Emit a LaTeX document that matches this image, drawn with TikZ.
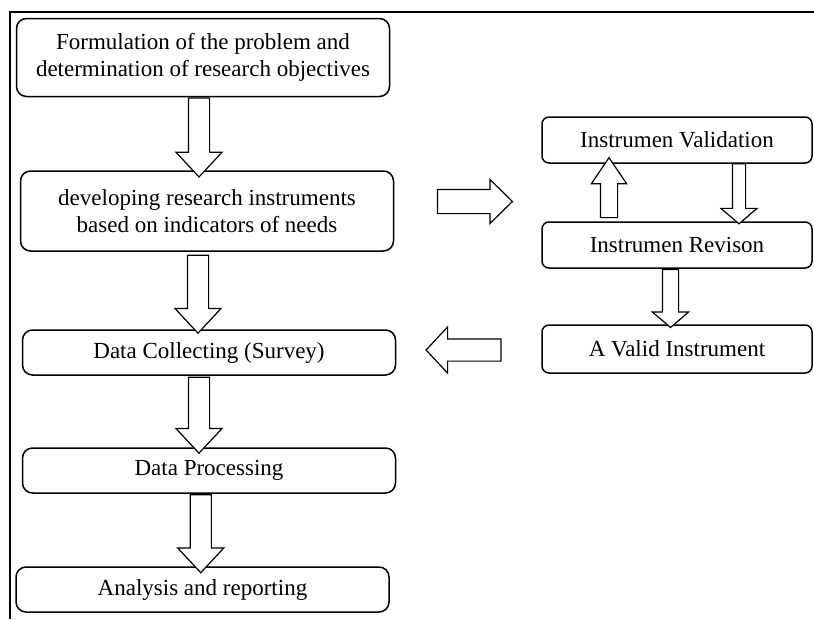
\documentclass[tikz,border=0pt]{standalone}
\usepackage{fontspec}
\setmainfont{Liberation Serif}
\usetikzlibrary{shapes.arrows, calc}
\tikzstyle{stage}=
[
	rectangle
	, rounded corners=10pt
	, minimum width=373pt
	, minimum height=45pt
	, align=center
	, line width=1.5pt
	, draw=black
	, fill=white
	, font=\fontsize{23}{27}\selectfont
]
\tikzstyle{side}=
[
	rectangle
	, rounded corners=7pt
	, minimum width=270pt
	, minimum height=46pt
	, align=center
	, line width=1.5pt
	, draw=black
	, fill=white
	, font=\fontsize{23}{27}\selectfont
]
\tikzstyle{fat}=
[
	single arrow
	, draw=black
	, line width=1.2pt
	, fill=white
	, inner xsep=0pt
	, inner ysep=10pt
	, minimum width=45pt
	, single arrow head extend=12.5pt
	, single arrow tip angle=86
]
\tikzstyle{thin}=
[
	fat
	, inner ysep=7.5pt
	, minimum width=35pt
	, single arrow head extend=10pt
	, single arrow tip angle=99
]
\tikzstyle{frame} = [line width=1.5pt]

\begin{document}
\begin{tikzpicture}[x=1pt, y=-1pt]
\useasboundingbox (0,0) rectangle (814,619);
\draw[frame] (814,12) -- (10,12) -- (10,619);

% left column
\node(form)[stage, minimum height=78pt] at (203,57.5) {Formulation of the problem and\\determination of research objectives};
\node(dev)[stage, minimum height=80pt] at (207,211) {developing research instruments\\based on indicators of needs};
\node(coll)[stage] at (209,352.5) {Data Collecting (Survey)};
\node(proc)[stage] at (209,470.5) {Data Processing};
\node(anal)[stage] at (202.5,589.5) {Analysis and reporting};

% right column
\node(valid)[side] at (677,140) {Instrumen Validation};
\node(rev)[side] at (677,245) {Instrumen Revison};
\node(vinst)[side, minimum height=48pt] at (677,349) {A Valid Instrument};

% block arrows
\node(a1)[fat, rotate=-90, minimum height=79pt] at ($(form.south)!0.5!(dev.north)+(-6,-2)$) {};
\node(a2)[fat, rotate=-90, minimum height=78pt] at ($(dev.south)!0.5!(coll.north)+(-10,-2)$) {};
\node(a3)[fat, rotate=-90, minimum height=76pt] at ($(coll.south)!0.5!(proc.north)+(-10,-2)$) {};
\node(a4)[fat, rotate=-90, minimum height=78pt] at ($(proc.south)!0.5!(anal.north)+(-5,-2)$) {};
\node(up)[thin, inner ysep=8pt, minimum width=34pt, single arrow head extend=9pt, rotate=90, minimum height=60pt, single arrow tip angle=68] at ($(rev.north)!0.5!(valid.south)+(-68,1.5)$) {};
\node(down)[thin, inner ysep=6pt, minimum width=35pt, single arrow head extend=11.5pt, rotate=-90, minimum height=60pt] at ($(valid.south)!0.5!(rev.north)+(62,-1.5)$) {};
\node(a5)[thin, rotate=-90, minimum height=58pt] at ($(rev.south)!0.5!(vinst.north)+(-6.5,-1.5)$) {};
\node(go)[fat, inner ysep=11.5pt, minimum width=43pt, single arrow head extend=10pt, single arrow tip angle=89, minimum height=75pt] at ($(dev.east)!0.5!(rev.west |- dev.east)+(1,-9.5)$) {};
\node(back)[fat, inner ysep=10.5pt, single arrow head extend=12pt, single arrow tip angle=94, rotate=180, minimum height=75pt] at ($(coll.east)!0.5!(vinst.west |- coll.east)+(0,-2.5)$) {};

\end{tikzpicture}
\end{document}
